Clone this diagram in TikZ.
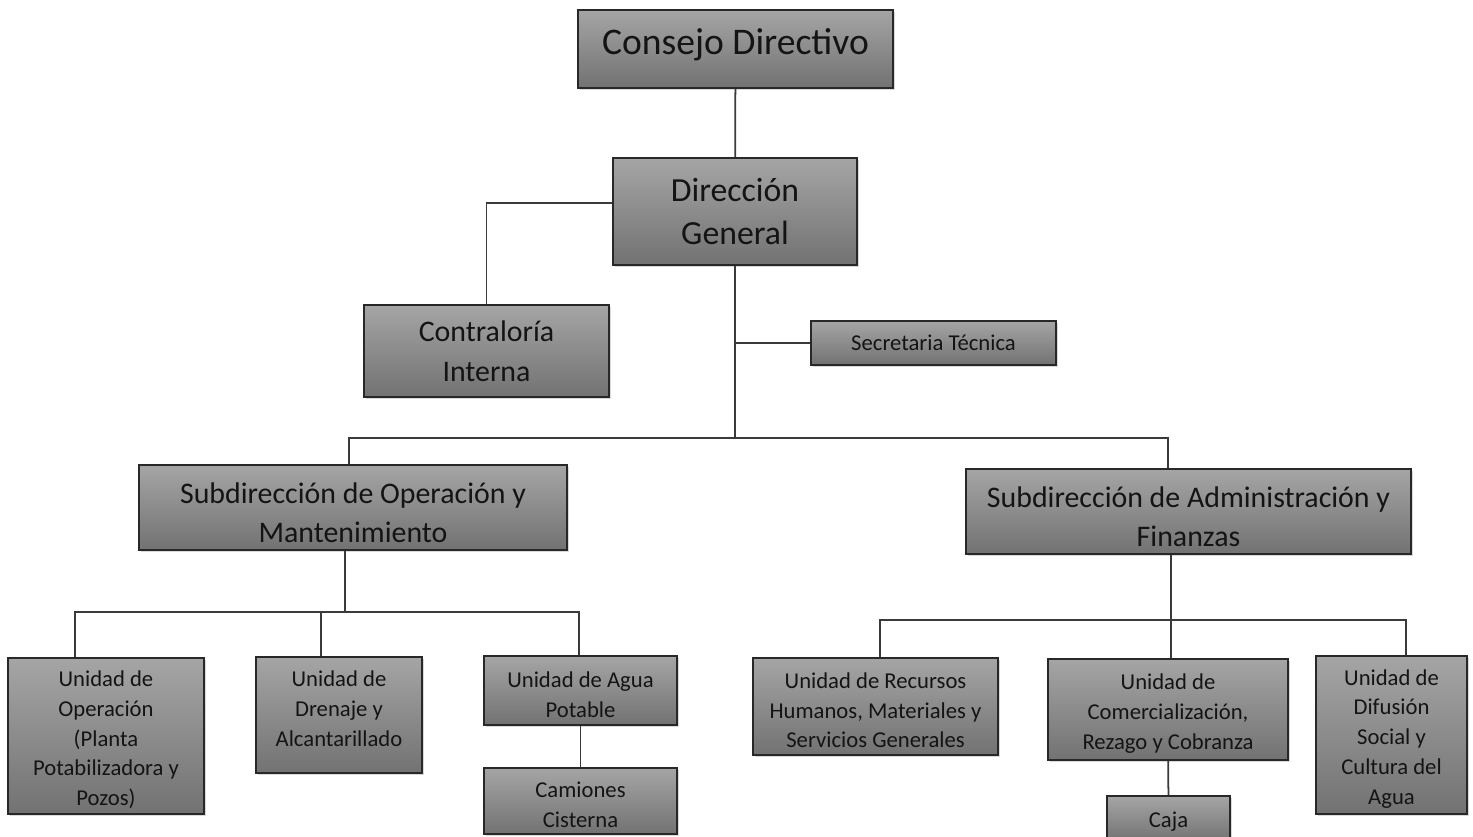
\documentclass[tikz,border=0pt]{standalone}
\usepackage{fontspec}
\setmainfont{Carlito}
\usetikzlibrary{positioning,calc,shadows}

\definecolor{boxtop}{RGB}{165,165,165}
\definecolor{boxbot}{RGB}{114,114,114}
\definecolor{edgegray}{RGB}{40,40,40}
\definecolor{linegray}{RGB}{58,58,58}

% taller first line, to push a block of text a little down in its box
\newcommand{\pushdown}[1]{\rule{0pt}{#1}}

\tikzset{
  unit/.style={draw=edgegray, line width=0.9pt, top color=boxtop, bottom color=boxbot,
    text=black!92, align=center, inner sep=0pt,
    drop shadow={shadow xshift=1pt, shadow yshift=-1pt, opacity=0.3}},
  link/.style={draw=linegray, line width=1pt},
  titlefont/.style={font=\fontsize{21.4}{26}\selectfont},
  headfont/.style={font=\fontsize{19.2}{25}\selectfont},
  subfont/.style={font=\fontsize{17}{22.5}\selectfont},
  unitfont/.style={font=\fontsize{12.9}{17}\selectfont},
}

\begin{document}
\begin{tikzpicture}[x=0.02cm, y=-0.02cm]
  \useasboundingbox (0,0) rectangle (1473,836);
  \clip (0,0) rectangle (1473,836);

  % top of the chart
  \node[unit, titlefont, minimum width=6.3cm, minimum height=1.56cm, text depth=8.5pt] (consejo) at (735.5,49) {Consejo Directivo};
  \node[unit, headfont, minimum width=4.88cm, minimum height=2.14cm] (direccion) at (735,211.5) {Dirección\\General};
  \node[unit, subfont, minimum width=4.9cm, minimum height=1.84cm] (contraloria) at (486.5,351) {Contraloría\\Interna};
  \node[unit, unitfont, minimum width=4.9cm, minimum height=0.88cm] (secretaria) at (933.5,343) {Secretaria Técnica};

  % subdirecciones
  \node[unit, subfont, minimum width=8.56cm, minimum height=1.7cm] (subop) at (353,507.5) {\pushdown{17.6pt}Subdirección de Operación y\\Mantenimiento};
  \node[unit, subfont, minimum width=8.9cm, minimum height=1.7cm] (subadm) at (1188.5,511.5) {\pushdown{17.6pt}Subdirección de Administración y\\Finanzas};

  % unidades
  \node[unit, unitfont, minimum width=3.92cm, minimum height=3.12cm] (uoper) at (106,736) {\pushdown{13.3pt}Unidad de\\Operación\\(Planta\\Potabilizadora y\\Pozos)};
  \node[unit, unitfont, minimum width=3.32cm, minimum height=2.32cm] (udren) at (339,715) {Unidad de\\Drenaje y\\Alcantarillado\\[-10pt]\mbox{}};
  \node[unit, unitfont, minimum width=3.86cm, minimum height=1.38cm] (uagua) at (580.5,690.5) {\pushdown{13.3pt}Unidad de Agua\\Potable};
  \node[unit, unitfont, minimum width=3.86cm, minimum height=1.32cm] (camiones) at (580.5,801) {\pushdown{13.3pt}Camiones\\Cisterna};
  \node[unit, unitfont, minimum width=4.9cm, minimum height=1.94cm] (urec) at (875.5,706.5) {\pushdown{13.3pt}Unidad de Recursos\\Humanos, Materiales y\\Servicios Generales};
  \node[unit, unitfont, minimum width=4.8cm, minimum height=2.02cm] (ucom) at (1168,709.5) {\pushdown{13.3pt}Unidad de\\Comercialización,\\Rezago y Cobranza};
  \node[unit, unitfont, minimum width=2.46cm, minimum height=0.92cm] (caja) at (1168.5,819) {\pushdown{11.9pt}Caja};
  \node[unit, unitfont, minimum width=3.02cm, minimum height=3.16cm] (udif) at (1391.5,735) {\pushdown{13.3pt}Unidad de\\Difusión\\Social y\\Cultura del\\Agua};

  % bus points
  \coordinate (mainL) at (349,438);
  \coordinate (mainR) at (1168,438);
  \coordinate (opA) at (75,612);
  \coordinate (opB) at (321,612);
  \coordinate (opC) at (579,612);
  \coordinate (adA) at (880,620);
  \coordinate (adB) at (1171,620);
  \coordinate (adC) at (1406,620);

  % connectors
  \draw[link] (consejo) -- (direccion);
  \draw[link] ([yshift=0.17cm]direccion.west) -| (contraloria.north);
  \draw[link] (direccion.south) -- (direccion.south |- mainL);
  \draw[link] (secretaria.west) -- (secretaria.west -| direccion.south);
  \draw[link] (mainL |- subop.north) -- (mainL) -- (mainR) -- (mainR |- subadm.north);

  \draw[link] (subop.south -| opB) ++(24,0) coordinate (opT) -- (opT |- opA);
  \draw[link] (opA |- uoper.north) -- (opA) -- (opC) -- (opC |- uagua.north);
  \draw[link] (opB) -- (opB |- udren.north);
  \draw[link] (uagua) -- (camiones);

  \draw[link] (adB |- subadm.south) -- (adB |- ucom.north);
  \draw[link] (adA |- urec.north) -- (adA) -- (adC) -- (adC |- udif.north);
  \draw[link] (ucom) -- (caja);
\end{tikzpicture}
\end{document}
